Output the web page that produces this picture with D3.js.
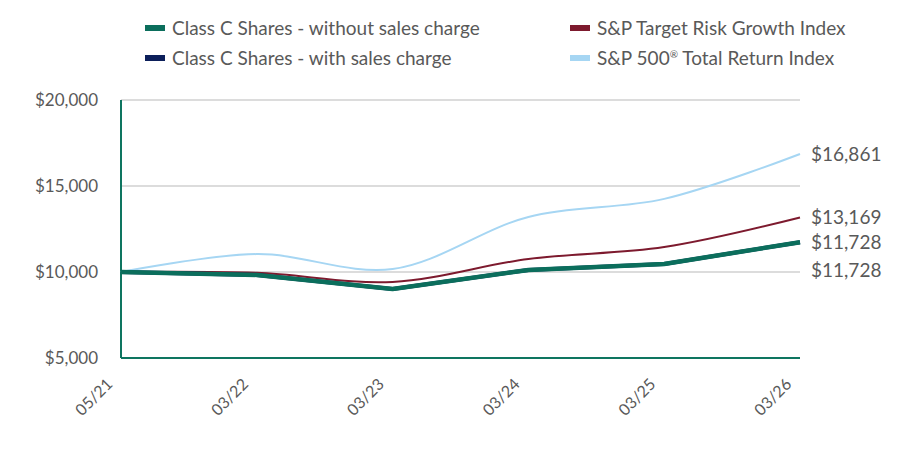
<!DOCTYPE html>
<html>
<head>
<meta charset="utf-8">
<script src="https://cdn.jsdelivr.net/npm/d3@7"></script>
<style>
  body { margin: 0; background: #fff; }
  text { font-family: Lato, "Liberation Sans", sans-serif; fill: #595959; }
</style>
</head>
<body>
<div id="chart"></div>
<script>
// categories and series
var periods = ["05/21", "03/22", "03/23", "03/24", "03/25", "03/26"]
var classCNoLoad = [10000, 9830, 9010, 10120, 10470, 11728]
var classCLoad = [10000, 9830, 9010, 10120, 10470, 11728]
var targetRisk = [10000, 9950, 9420, 10760, 11450, 13169]
var sp500 = [10000, 11040, 10170, 13200, 14250, 16861]
var yTicks = [5000, 10000, 15000, 20000]
var legendNames = ["Class C Shares - without sales charge", "Class C Shares - with sales charge",
                   "S&P Target Risk Growth Index", "S&P 500"]

var width = 900, height = 462
var margin = {top: 100, right: 100, bottom: 104, left: 121}

var svg = d3.select("#chart").append("svg")
    .attr("width", width)
    .attr("height", height)

var x = d3.scalePoint()
  .domain(periods)
  .range([margin.left, width - margin.right])

var y = d3.scaleLinear()
  .domain([5000, 20000])
  .range([height - margin.bottom, margin.top])

var fmt = function(v) { return "$" + d3.format(",")(v) }

// gridlines
svg.append("g").selectAll("line")
  .data(yTicks.filter(function(d) { return d > 5000 }))
  .join("line")
    .attr("x1", margin.left).attr("x2", width - margin.right)
    .attr("y1", function(d) { return y(d) }).attr("y2", function(d) { return y(d) })
    .attr("stroke", "#d0d0d0").attr("stroke-width", 1.5)

// y labels
var yAxis = svg.append("g")
  .attr("transform", "translate(" + margin.left + ",0)")
  .call(d3.axisLeft(y).tickValues(yTicks).tickFormat(fmt).tickSize(0).tickPadding(23))
yAxis.select(".domain").remove()
yAxis.selectAll("text").style("font-size", "17px").attr("fill", "#595959")

// x labels rotated, text ends just below-left of the tick
var xAxis = svg.append("g")
  .attr("transform", "translate(0," + (height - margin.bottom) + ")")
  .call(d3.axisBottom(x).tickSize(0))
xAxis.select(".domain").remove()
xAxis.selectAll("text")
  .style("font-size", "16px")
  .attr("fill", "#595959")
  .attr("text-anchor", "end")
  .attr("x", -25)
  .attr("y", 8)
  .attr("dy", "0.35em")
  .attr("transform", "rotate(-45)")

// axis lines
svg.append("line")
  .attr("x1", margin.left).attr("x2", margin.left)
  .attr("y1", margin.top).attr("y2", height - margin.bottom)
  .attr("stroke", "#0e7560").attr("stroke-width", 2)
svg.append("line")
  .attr("x1", margin.left).attr("x2", width - margin.right)
  .attr("y1", height - margin.bottom).attr("y2", height - margin.bottom)
  .attr("stroke", "#0e7560").attr("stroke-width", 2)

var series = [
  {vals: sp500, color: "#a6d6f3", w: 2, curve: d3.curveCatmullRom.alpha(0.5)},
  {vals: targetRisk, color: "#7d1a2e", w: 2, curve: d3.curveCatmullRom.alpha(0.5)},
  {vals: classCLoad, color: "#0c1f5a", w: 4, curve: d3.curveLinear},
  {vals: classCNoLoad, color: "#0b6e5c", w: 4.5, curve: d3.curveLinear}
]

series.forEach(function(s) {
  var line = d3.line()
    .x(function(d, i) { return x(periods[i]) })
    .y(function(d) { return y(d) })
    .curve(s.curve)
  svg.append("path")
    .datum(s.vals)
    .attr("d", line)
    .attr("fill", "none")
    .attr("stroke", s.color)
    .attr("stroke-width", s.w)
    .attr("stroke-linejoin", "round")
})

// end labels
var ends = [
  {v: sp500[5], y: y(sp500[5])},
  {v: targetRisk[5], y: y(targetRisk[5])},
  {v: classCNoLoad[5], y: y(classCNoLoad[5])},
  {v: classCLoad[5], y: y(classCLoad[5]) + 28}
]
svg.append("g").selectAll("text")
  .data(ends)
  .join("text")
    .attr("x", width - margin.right + 11)
    .attr("y", function(d) { return d.y })
    .attr("dy", "0.35em")
    .style("font-size", "19px")
    .text(function(d) { return fmt(d.v) })

// legend
var legend = [
  {name: legendNames[0], color: "#0b6e5c", col: 0, row: 0},
  {name: legendNames[1], color: "#0c1f5a", col: 0, row: 1},
  {name: legendNames[2], color: "#7d1a2e", col: 1, row: 0},
  {name: legendNames[3], color: "#a6d6f3", col: 1, row: 1}
]
var lg = svg.append("g").selectAll("g")
  .data(legend)
  .join("g")
    .attr("transform", function(d) {
      return "translate(" + (d.col ? 570 : 145) + "," + (28 + d.row * 30) + ")"
    })
lg.append("rect")
  .attr("x", 0).attr("y", -3)
  .attr("width", 20).attr("height", 6)
  .attr("fill", function(d) { return d.color })
lg.append("text")
  .attr("x", 27)
  .attr("dy", "0.35em")
  .style("font-size", "19px")
  .each(function(d) {
    var t = d3.select(this)
    t.append("tspan").text(d.name)
    if (d.name === "S&P 500") {
      t.append("tspan").text("®").style("font-size", "10px").attr("dy", "-7")
      t.append("tspan").text(" Total Return Index").attr("dy", "7")
    }
  })
</script>
</body>
</html>
